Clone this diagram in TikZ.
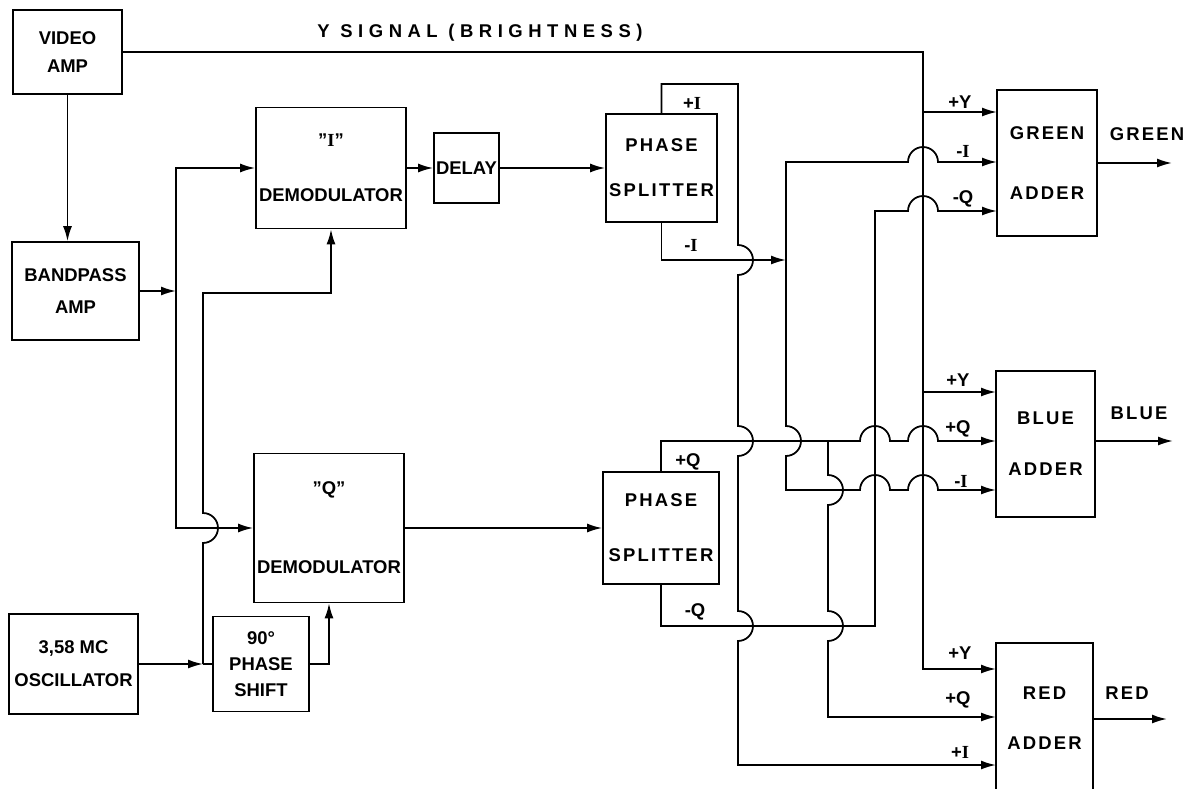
\documentclass[tikz,border=0pt]{standalone}
\usepackage{fontspec}
\setmainfont{Liberation Sans}
\newfontfamily\serifI{Liberation Serif}
\newcommand{\Iltr}{{\serifI\bfseries I}}
\newcommand{\dq}{\symbol{34}}
\usetikzlibrary{arrows.meta}

\begin{document}
\begin{tikzpicture}[x=0.02cm, y=-0.02cm, line width=1pt,
  >={Latex[length=3mm, width=1.8mm]},
  font=\fontsize{10.5}{12.6}\selectfont\bfseries,
  block/.style={draw, align=center, inner sep=0.5pt},
  sig/.style={inner sep=1pt},
  spaced/.style={font=\fontsize{10.5}{12.6}\selectfont\bfseries\addfontfeature{LetterSpace=12}}]

  \useasboundingbox (0,0) rectangle (1190,788);

  % -- Blocks on the left --
  \node[block, minimum width=2.18cm, minimum height=1.68cm] (video) at (67.5,52) {VIDEO\\[0.1cm]AMP};
  \node[block, minimum width=2.54cm, minimum height=1.96cm] (bandpass) at (75.5,291) {BANDPASS\\[0.2cm]AMP};
  \node[block, minimum width=2.58cm, minimum height=2.0cm] (osc) at (73.5,664) {3,58 MC\\[0.22cm]OSCILLATOR};
  \node[block, minimum width=1.92cm, minimum height=1.9cm] (shift) at (261,664) {90°\\[0.08cm]PHASE\\[0.08cm]SHIFT};

  % -- Demodulators, delay and splitters --
  \node[block, minimum width=3cm, minimum height=2.42cm] (idemod) at (331,168) {\dq\Iltr\dq\\[0.66cm]DEMODULATOR};
  \node[block, minimum width=1.3cm, minimum height=1.4cm] (delay) at (466.5,168) {DELAY};
  \node[block, spaced, minimum width=2.22cm, minimum height=2.16cm] (split1) at (661.5,168) {PHASE\\[0.46cm]SPLITTER};
  \node[block, minimum width=3cm, minimum height=2.98cm] (qdemod) at (329,528) {\dq Q\dq\\[1.14cm]DEMODULATOR};
  \node[block, spaced, minimum width=2.32cm, minimum height=2.24cm] (split2) at (661,528) {PHASE\\[0.66cm]SPLITTER};

  % -- Adders --
  \node[block, spaced, minimum width=2.0cm, minimum height=2.92cm] (green) at (1047,163) {GREEN\\[0.74cm]ADDER};
  \node[block, spaced, minimum width=1.98cm, minimum height=2.92cm] (blue) at (1045.5,444) {BLUE\\[0.58cm]ADDER};
  \node[block, spaced, minimum width=1.94cm, minimum height=3.0cm] (red) at (1044.5,718) {RED\\[0.56cm]ADDER};

  % -- Junctions and ports --
  \coordinate (yTop) at (923,52);
  \coordinate (yBot) at (923,669);
  \coordinate (bpJ) at (176,291);
  \coordinate (oscJ) at (203,664);
  \coordinate (iJ) at (786,260);
  \coordinate (qJ) at (828,441);
  \coordinate (gY) at (997,112);
  \coordinate (gI) at (997,162);
  \coordinate (gQ) at (997,211);
  \coordinate (bY) at (996,392);
  \coordinate (bQ) at (996,441);
  \coordinate (bI) at (996,490);
  \coordinate (rY) at (996,669);
  \coordinate (rQ) at (996,717);
  \coordinate (rI) at (996,765);
  \coordinate (gOut) at (1172,163);
  \coordinate (bOut) at (1173,441);
  \coordinate (rOut) at (1167,719);

  % -- Y signal bus --
  \draw[->] (video) -- (yTop) -- (yBot) -- (rY);
  \draw[->] (yTop |- gY) -- (gY);
  \draw[->] (yTop |- bY) -- (bY);
  \node[sig, font=\fontsize{10.5}{12.6}\selectfont\bfseries\addfontfeature{LetterSpace=30}] (ylbl) at (480,33) {Y\ SIGNAL\ (BRIGHTNESS)};

  % -- Chroma feed --
  \draw[->] (video.south) -- (video.south |- bandpass.north);
  \draw[->] (bandpass) -- (bpJ);
  \draw[->] (bpJ) |- (idemod);
  \draw[->] (bpJ) |- (qdemod);

  % -- Oscillator --
  \draw[->] (osc) -- (oscJ);
  \draw (oscJ) -- (shift);
  \draw[->] (oscJ) -- (203,543) arc[start angle=90, end angle=-90, radius=15] -- (203,293) -| (idemod);
  \draw[->] (shift) -| (qdemod);

  % -- I channel --
  \draw[->] (idemod) -- (delay);
  \draw[->] (delay) -- (split1);
  \draw[->] (split1.north) |- (738,84) -- (738,245) arc[start angle=-90, end angle=90, radius=15]
    -- (738,426) arc[start angle=-90, end angle=90, radius=15]
    -- (738,611) arc[start angle=-90, end angle=90, radius=15] |- (rI);
  \draw[->] (split1.south) |- (iJ);
  \draw[->] (iJ) -- (786,162) -- (908,162) arc[start angle=180, end angle=360, radius=15] -- (gI);
  \draw[->] (iJ) -- (786,426) arc[start angle=-90, end angle=90, radius=15] |- (860,490)
    arc[start angle=180, end angle=360, radius=15] -- (908,490)
    arc[start angle=180, end angle=360, radius=15] -- (bI);

  % -- Q channel --
  \draw[->] (qdemod) -- (split2);
  \draw[->] (split2.north) |- (860,441) arc[start angle=180, end angle=360, radius=15] -- (908,441)
    arc[start angle=180, end angle=360, radius=15] -- (bQ);
  \draw[->] (qJ) -- (828,475) arc[start angle=-90, end angle=90, radius=15]
    -- (828,611) arc[start angle=-90, end angle=90, radius=15] |- (rQ);
  \draw[->] (split2.south) |- (875,626) -- (875,211) -- (908,211)
    arc[start angle=180, end angle=360, radius=15] -- (gQ);

  % -- Outputs --
  \draw[->] (green) -- (gOut);
  \draw[->] (blue.east |- bOut) -- (bOut);
  \draw[->] (red.east |- rOut) -- (rOut);
  \node[sig, spaced] (greenlbl) at (1147,134) {GREEN};
  \node[sig, spaced] (bluelbl) at (1139,413) {BLUE};
  \node[sig, spaced] (redlbl) at (1127,693) {RED};

  % Port labels
  \node[sig] (pI) at (692,103) {+\Iltr};
  \node[sig] (mI) at (691,245) {-\Iltr};
  \node[sig] (pQ) at (688,462) {+Q};
  \node[sig] (mQ) at (695,612) {-Q};
  \node[sig] (gYl) at (960,102) {+Y};
  \node[sig] (gIl) at (963,151) {-\Iltr};
  \node[sig] (gQl) at (963,199) {-Q};
  \node[sig] (bYl) at (958,380) {+Y};
  \node[sig] (bQl) at (958,429) {+Q};
  \node[sig] (bIl) at (961,481) {-\Iltr};
  \node[sig] (rYl) at (960,653) {+Y};
  \node[sig] (rQl) at (958,700) {+Q};
  \node[sig] (rIl) at (960,752) {+\Iltr};

\end{tikzpicture}
\end{document}
